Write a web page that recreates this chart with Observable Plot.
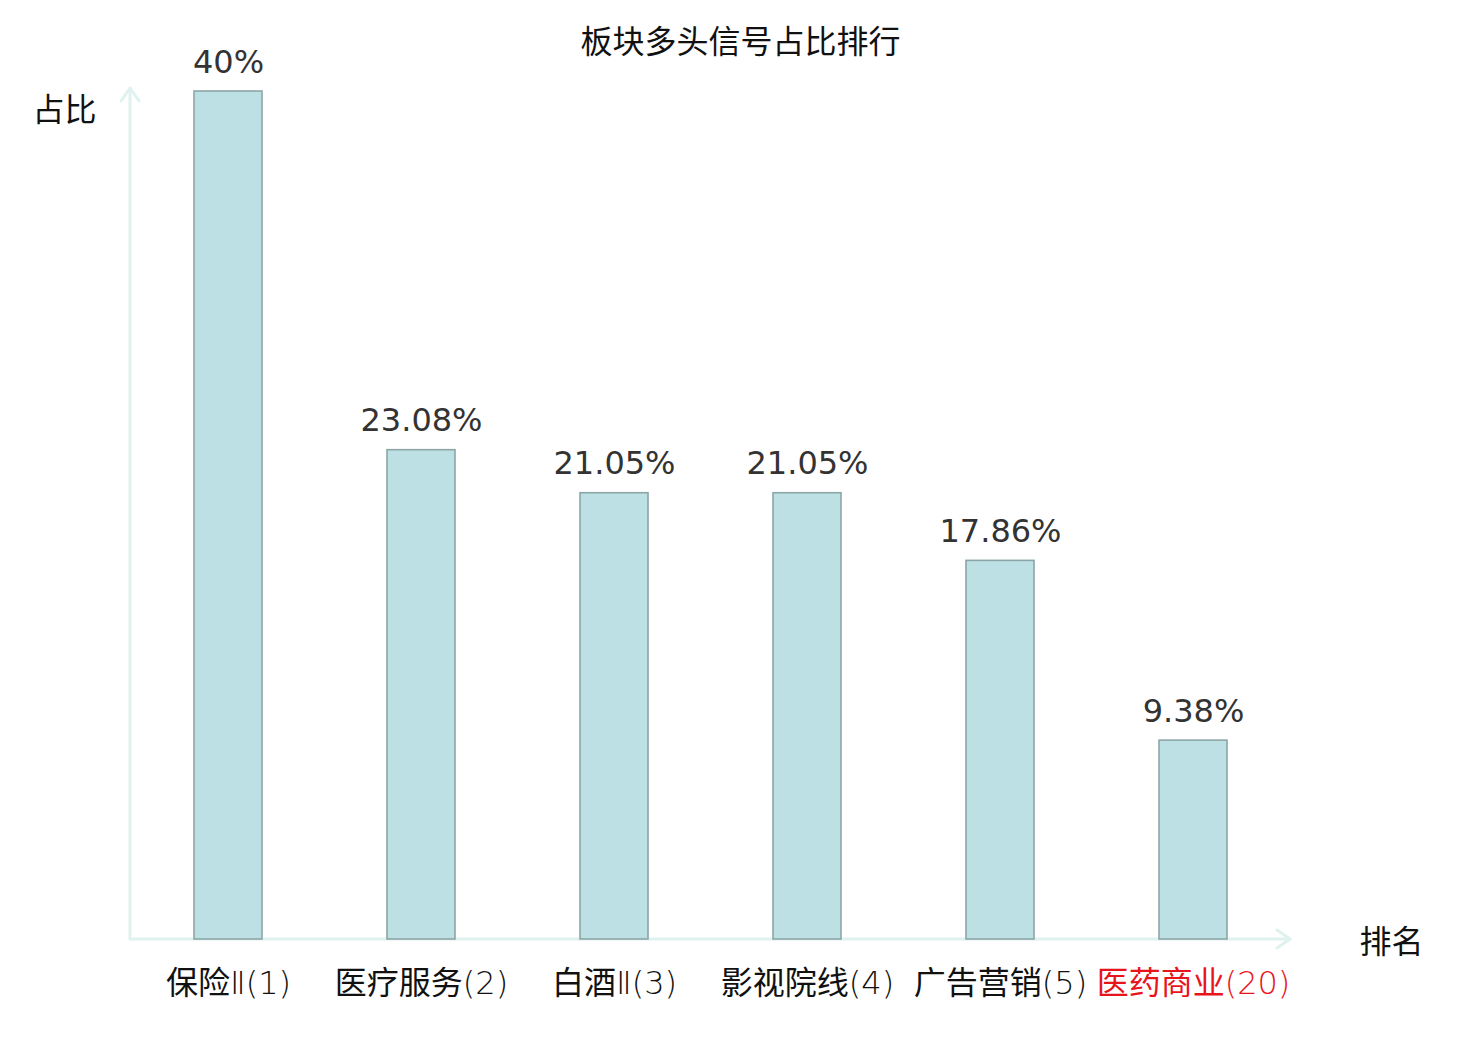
<!DOCTYPE html>
<html>
<head>
<meta charset="utf-8">
<script src="https://cdn.jsdelivr.net/npm/d3@7"></script>
<script src="https://cdn.jsdelivr.net/npm/@observablehq/plot@0.6"></script>
<style>
  html, body { margin: 0; padding: 0; background: #fff; }
  #chart svg { display: block; }
</style>
</head>
<body>
<div id="chart"></div>
<script>
const categories = ["保险Ⅱ", "医疗服务", "白酒Ⅱ", "影视院线", "广告营销", "医药商业"];
const ranks = [1, 2, 3, 4, 5, 20];
const shares = [40, 23.08, 21.05, 21.05, 17.86, 9.38];
const highlightRank = 20;

const titleText = "板块多头信号占比排行";
const yLabel = "占比";
const xLabel = "排名";

const data = categories.map((c, i) => ({
  label: `${c}(${ranks[i]})`,
  rank: ranks[i],
  value: shares[i]
}));

const cjk = '"Noto Sans CJK SC", "Noto Sans", sans-serif';
const tickFont = '"DejaVu Sans Light", "DejaVu Sans ExtraLight", "Noto Sans CJK SC", sans-serif';
const axisColor = "#dff2ef";

function axesMark(index, scales, values, dims) {
  const ml = dims.marginLeft, mt = dims.marginTop;
  const x0 = ml, y0 = dims.height - dims.marginBottom;
  const x1 = dims.width - dims.marginRight;
  const yTop = mt - 3;
  const g = d3.create("svg:g")
    .attr("fill", "none")
    .attr("stroke", axisColor)
    .attr("stroke-width", 3)
    .attr("stroke-linecap", "round")
    .attr("stroke-linejoin", "round");
  g.append("path").attr("d", `M${x0},${y0}V${yTop}`);
  g.append("path").attr("d", `M${x0 - 9},${yTop + 13}L${x0},${yTop}L${x0 + 9},${yTop + 13}`);
  g.append("path").attr("d", `M${x0},${y0}H${x1}`);
  g.append("path").attr("d", `M${x1 - 13},${y0 - 9}L${x1},${y0}L${x1 - 13},${y0 + 9}`);
  return g.node();
}

const chart = Plot.plot({
  width: 1480,
  height: 1040,
  marginLeft: 130,
  marginRight: 190,
  marginTop: 91,
  marginBottom: 101,
  x: { domain: data.map(d => d.label), paddingInner: 0.648, paddingOuter: 0.324, axis: null },
  y: { domain: [0, 40], axis: null },
  marks: [
    axesMark,
    Plot.barY(data, {
      x: "label", y: "value",
      fill: "#bce0e3", stroke: "#8ca6a7", strokeWidth: 1.6
    }),
    Plot.text(data, {
      x: "label", y: "value",
      text: d => `${d.value}%`,
      dy: -29,
      lineAnchor: "middle",
      fill: "#333",
      fontSize: 32,
      fontFamily: '"DejaVu Sans", sans-serif'
    }),
    Plot.text(data, {
      x: "label",
      frameAnchor: "bottom",
      lineAnchor: "middle",
      dy: 44,
      text: "label",
      fill: d => d.rank === highlightRank ? "#e8141c" : "#111",
      fontSize: 32,
      fontFamily: tickFont
    }),
    Plot.text([titleText], {
      frameAnchor: "top",
      textAnchor: "middle",
      lineAnchor: "middle",
      dx: 30,
      dy: -49,
      text: d => d,
      fill: "#111",
      fontSize: 32,
      fontFamily: cjk
    }),
    Plot.text([yLabel], {
      frameAnchor: "top-left",
      textAnchor: "middle",
      lineAnchor: "middle",
      dx: -66,
      dy: 19,
      text: d => d,
      fill: "#111",
      fontSize: 32,
      fontFamily: cjk
    }),
    Plot.text([xLabel], {
      frameAnchor: "bottom-right",
      textAnchor: "middle",
      lineAnchor: "middle",
      dx: 101,
      dy: 3,
      text: d => d,
      fill: "#111",
      fontSize: 32,
      fontFamily: cjk
    })
  ]
});

document.getElementById("chart").appendChild(chart);
</script>
</body>
</html>
